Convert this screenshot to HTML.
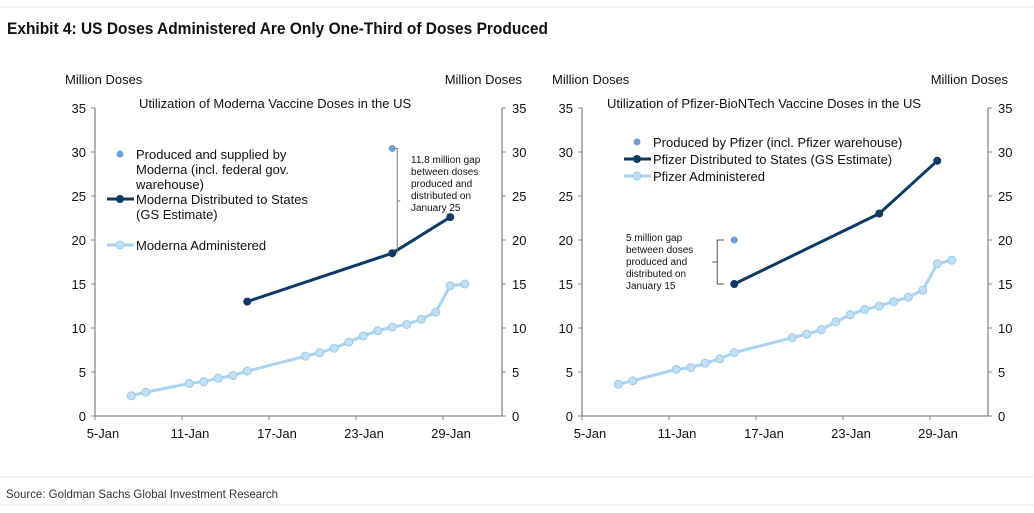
<!DOCTYPE html>
<html><head><meta charset="utf-8"><style>
html,body{margin:0;padding:0;background:#fff}
svg{display:block;font-family:"Liberation Sans",sans-serif}
</style></head><body>
<svg id="c" width="1034" height="513" viewBox="0 0 1034 513">
<line x1="0" y1="7" x2="1034" y2="7" stroke="#ccc" stroke-dasharray="1,1"/>
<text x="7" y="34" font-size="17" font-weight="bold" textLength="541" lengthAdjust="spacingAndGlyphs" fill="#111">Exhibit 4: US Doses Administered Are Only One-Third of Doses Produced</text>
<line x1="0" y1="477" x2="1034" y2="477" stroke="#ccc" stroke-dasharray="1,1"/>
<text x="6" y="498" font-size="12" textLength="272" lengthAdjust="spacingAndGlyphs" fill="#333">Source: Goldman Sachs Global Investment Research</text>
<line x1="0" y1="505" x2="1034" y2="505" stroke="#ccc" stroke-dasharray="1,1"/>
<g id="g1"></g><g id="g2"></g>
</svg>
<script>
const yTicks=[0,5,10,15,20,25,30,35];
const xTickDays=[5,11,17,23,29];
const xTickLabels=["5-Jan","11-Jan","17-Jan","23-Jan","29-Jan"];
const modAdminDays=[7,8,11,12,13,14,15,19,20,21,22,23,24,25,26,27,28,29,30];
const modAdminVals=[2.3,2.7,3.7,3.9,4.3,4.6,5.1,6.8,7.2,7.7,8.4,9.1,9.7,10.1,10.4,11.0,11.8,14.8,15.0];
const modDistDays=[15,25,29];
const modDistVals=[13,18.5,22.6];
const modProdDays=[25];
const modProdVals=[30.4];
const pfzAdminDays=[7,8,11,12,13,14,15,19,20,21,22,23,24,25,26,27,28,29,30];
const pfzAdminVals=[3.6,4.0,5.3,5.5,6.0,6.5,7.2,8.9,9.3,9.8,10.7,11.5,12.1,12.5,13.0,13.5,14.3,17.3,17.7];
const pfzDistDays=[15,25,29];
const pfzDistVals=[15,23,29];
const pfzProdDays=[15];
const pfzProdVals=[20];

const NS="http://www.w3.org/2000/svg";
function mk(p,t,a,txt){const e=document.createElementNS(NS,t);for(const k in a)e.setAttribute(k,a[k]);if(txt!=null)e.textContent=txt;p.appendChild(e);return e;}

function chart(g,x0,x1,prefix,title,titleX,adminD,adminV,distD,distV,prodD,prodV){
  const y0=416,yTop=108,pxDay=14.5;
  const X=d=>x0+(d-5+0.5)*pxDay, Xt=d=>x0+(d-5)*pxDay;
  const Y=v=>y0-(v/35)*(y0-yTop);
  let e;
  e=mk(g,"text",{x:x0-30,y:84,"font-size":13,fill:"#111"},"Million Doses");
  
  
  e=mk(g,"text",{x:x1+20,y:84,"font-size":13,fill:"#111","text-anchor":"end"},"Million Doses");
  
  
  e=mk(g,"text",{x:titleX,y:108,"font-size":13,fill:"#111"},title);
  
  
  e=mk(g,"line",{x1:x0,y1:yTop,x2:x0,y2:y0,stroke:"#888","stroke-width":1.3});
  
  
  e=mk(g,"line",{x1:x1,y1:yTop,x2:x1,y2:y0,stroke:"#888","stroke-width":1.3});
  
  
  e=mk(g,"line",{x1:x0,y1:y0,x2:x1,y2:y0,stroke:"#888","stroke-width":1.3});
  
  
  yTicks.forEach(v=>{
    mk(g,"line",{x1:x0-4,y1:Y(v),x2:x0,y2:Y(v),stroke:"#888"});
    mk(g,"line",{x1:x1,y1:Y(v),x2:x1+4,y2:Y(v),stroke:"#888"});
    e=mk(g,"text",{x:x0-9,y:Y(v)+5,"font-size":13,fill:"#111","text-anchor":"end"},String(v));
    
    
    e=mk(g,"text",{x:x1+10,y:Y(v)+5,"font-size":13,fill:"#111"},String(v));
    
    
  });
  xTickDays.forEach((d,i)=>{
    mk(g,"line",{x1:Xt(d),y1:y0,x2:Xt(d),y2:y0+4,stroke:"#888"});
    e=mk(g,"text",{x:Xt(d)+8,y:y0+22,"font-size":13,fill:"#111","text-anchor":"middle"},xTickLabels[i]);
    
    
  });
  e=mk(g,"polyline",{points:adminD.map((d,i)=>X(d)+","+Y(adminV[i])).join(" "),fill:"none",stroke:"#a9d3f0","stroke-width":3});
  
  
  adminD.forEach((d,i)=>{
    e=mk(g,"circle",{cx:X(d),cy:Y(adminV[i]),r:4,fill:"#bfe0f6",stroke:"#9ccbeb"});
    
    
  });
  e=mk(g,"polyline",{points:distD.map((d,i)=>X(d)+","+Y(distV[i])).join(" "),fill:"none",stroke:"#0d3a63","stroke-width":3});
  
  
  distD.forEach((d,i)=>{
    e=mk(g,"circle",{cx:X(d),cy:Y(distV[i]),r:4,fill:"#0d3a63"});
    
    
  });
  prodD.forEach((d,i)=>{
    e=mk(g,"circle",{cx:X(d),cy:Y(prodV[i]),r:3.5,fill:"#6f9fd6"});
    
    
  });
  return {X,Y};
}
const g1=document.getElementById("g1"),g2=document.getElementById("g2");
const a=chart(g1,95,502,"moderna","Utilization of Moderna Vaccine Doses in the US",139,modAdminDays,modAdminVals,modDistDays,modDistVals,modProdDays,modProdVals);
const b=chart(g2,582,988,"pfizer","Utilization of  Pfizer-BioNTech Vaccine Doses in the US",607,pfzAdminDays,pfzAdminVals,pfzDistDays,pfzDistVals,pfzProdDays,pfzProdVals);

function legend(g,x,y,kind,lines,name){
  let e;
  if(kind==="prod"){e=mk(g,"circle",{cx:x+13,cy:y-5,r:3.5,fill:"#6f9fd6"});}
  else{
    const c=kind==="dist"?"#0d3a63":"#a9d3f0";
    mk(g,"line",{x1:x,y1:y-5,x2:x+27,y2:y-5,stroke:c,"stroke-width":3});
    mk(g,"circle",{cx:x+13,cy:y-5,r:4,fill:kind==="dist"?"#0d3a63":"#bfe0f6",stroke:kind==="dist"?"none":"#9ccbeb"});
  }
  lines.forEach((t,i)=>{
    e=mk(g,"text",{x:x+29,y:y+i*15,"font-size":13,fill:"#111"},t);
    
    
  });
}
legend(g1,107,159,"prod",["Produced and supplied by","Moderna (incl. federal gov.","warehouse)"],"moderna-legend-produced");
legend(g1,107,204,"dist",["Moderna Distributed to States","(GS Estimate)"],"moderna-legend-distributed");
legend(g1,107,250,"admin",["Moderna Administered"],"moderna-legend-administered");
legend(g2,624,147,"prod",["Produced by Pfizer (incl. Pfizer warehouse)"],"pfizer-legend-produced");
legend(g2,624,164,"dist",["Pfizer Distributed to States (GS Estimate)"],"pfizer-legend-distributed");
legend(g2,624,181,"admin",["Pfizer Administered"],"pfizer-legend-administered");

let e;
const ax=a.X(25)+5;
e=mk(g1,"path",{d:`M${a.X(25)+2},${a.Y(modProdVals[0])} H${ax} V${a.Y(modDistVals[1])} M${ax},${(a.Y(modProdVals[0])+a.Y(modDistVals[1]))/2} h3`,fill:"none",stroke:"#777"});


["11.8 million gap","between doses","produced and","distributed on","January 25"].forEach((t,i)=>{
  e=mk(g1,"text",{x:411,y:163+i*12,"font-size":10,fill:"#111"},t);
  
  
});
const bx=b.X(15)-17;
e=mk(g2,"path",{d:`M${bx+7},${b.Y(20)} H${bx} V${b.Y(15)} H${bx+7} M${bx},${(b.Y(20)+b.Y(15))/2} h-5`,fill:"none",stroke:"#555"});


["5 million gap","between doses","produced and","distributed on","January 15"].forEach((t,i)=>{
  e=mk(g2,"text",{x:626,y:241+i*12,"font-size":10,fill:"#111"},t);
  
  
});
</script>
</body></html>
